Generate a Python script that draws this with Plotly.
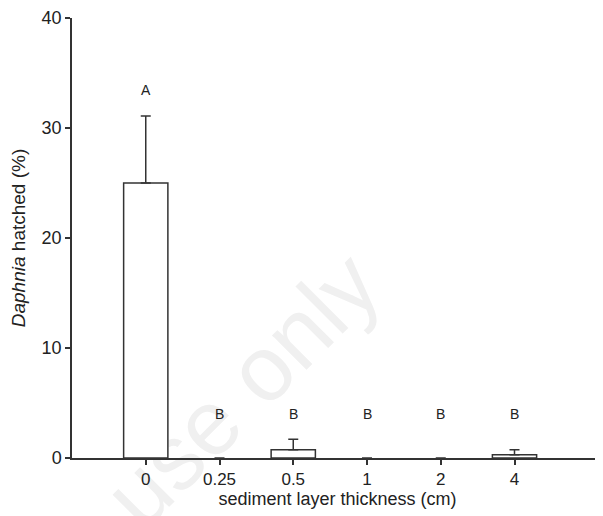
import plotly.graph_objects as go

categories = ["0", "0.25", "0.5", "1", "2", "4"]
hatched = [25.0, 0.0, 0.75, 0.0, 0.0, 0.3]
err_up = [6.1, None, 0.95, None, None, 0.45]
letters = ["A", "B", "B", "B", "B", "B"]
letter_y = [33.5, 4.0, 4.0, 4.0, 4.0, 4.0]

pos = list(range(len(categories)))
axis_col = "#333333"
font = "Liberation Sans, Arial, sans-serif"
outline_w = [1.5 if v > 0 else 0 for v in hatched]

fig = go.Figure()
fig.add_trace(go.Bar(
    x=pos, y=hatched, width=0.6,
    marker=dict(color="white", line=dict(color=axis_col, width=outline_w)),
    error_y=dict(type="data", array=err_up, symmetric=False,
                 arrayminus=[0]*len(pos), color=axis_col, thickness=1.5, width=5),
    showlegend=False, hoverinfo="skip",
))

# faint watermark, kept behind the chart
fig.add_shape(type="rect", xref="paper", yref="paper",
              x0=0.297, x1=0.317, y0=0.160, y1=0.180,
              line=dict(width=0), fillcolor="rgba(0,0,0,0)", layer="below",
              label=dict(text="use only", textangle=-45, textposition="middle center",
                         font=dict(size=92, color="#f0f0f0", family=font)))

for p, t, ly in zip(pos, letters, letter_y):
    fig.add_annotation(x=p, y=ly, text=t, showarrow=False,
                       font=dict(size=14, color="#222", family=font))

# page body has an 8px margin; figure sized/offset to compensate
fig.update_layout(
    width=595, height=508,
    margin=dict(l=64, r=0, t=7, b=58),
    paper_bgcolor="white", plot_bgcolor="rgba(0,0,0,0)",
    font=dict(family=font, color="#222", size=15),
    xaxis=dict(range=[-1, 6.2], tickvals=pos, ticktext=categories,
               showline=True, linecolor=axis_col, linewidth=1.5,
               ticks="outside", ticklen=5, tickwidth=1.5, tickcolor=axis_col,
               showgrid=False, zeroline=False, ticklabeloverflow="allow",
               tickfont=dict(size=17),
               title=dict(text="sediment layer thickness (cm)", font=dict(size=18), standoff=3)),
    yaxis=dict(range=[0, 40], tickvals=[0, 10, 20, 30, 40],
               showline=True, linecolor=axis_col, linewidth=1.5,
               ticks="outside", ticklen=5, tickwidth=1.5, tickcolor=axis_col,
               showgrid=False, zeroline=False, ticklabeloverflow="allow",
               tickfont=dict(size=18),
               title=dict(text="<i>Daphnia</i> hatched (%)", font=dict(size=19), standoff=11)),
)

fig.write_html("out.html")
